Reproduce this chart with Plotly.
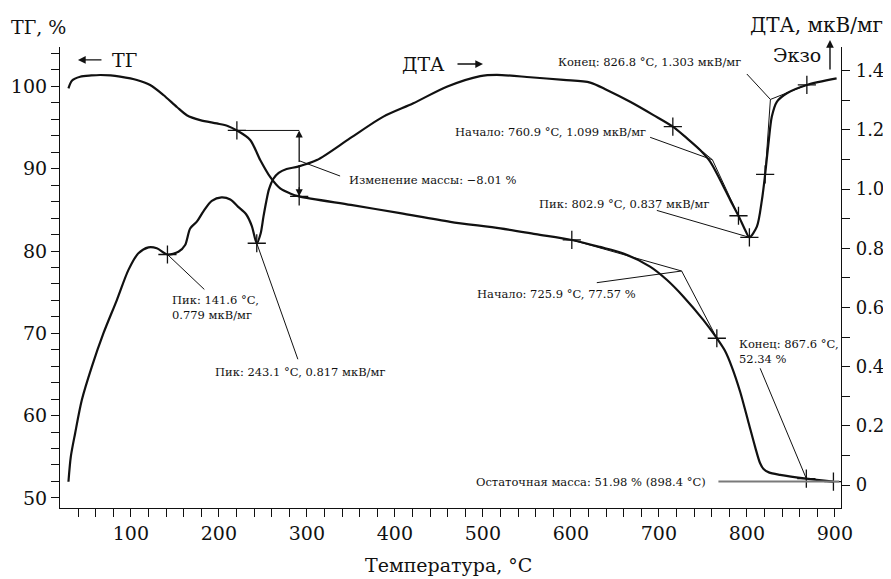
import plotly.graph_objects as go

FONT = "DejaVu Serif, Liberation Serif, serif"
INK = "#111111"

# ---- TG curve (left axis, %) ----
tg_temp = [29.1, 33, 42.4, 55, 65.1, 77, 87.8, 106.8, 121.9, 137, 152.3, 163.6, 178.8, 197.7, 210,
           220.5, 235.6, 247, 258.3, 269.7, 281, 291.3, 350, 406, 463, 520, 560, 601.1, 633, 659.8,
           690, 709, 728, 750.7, 765.9, 775, 783, 792.4, 801.8, 809.4, 815.1, 819, 825, 837.8, 867.6, 898.4]
tg_val = [99.77, 100.7, 101.18, 101.33, 101.39, 101.33, 101.18, 100.78, 100.17, 98.96, 97.5, 96.5, 95.9, 95.5, 95.2,
          94.65, 93.5, 91.06, 89.0, 87.6, 87.0, 86.64, 85.6, 84.6, 83.55, 82.75, 82.05, 81.34, 80.5, 79.7,
          78.1, 76.5, 74.45, 71.6, 69.4, 67.9, 65.9, 62.9, 59.2, 56.2, 54.2, 53.5, 53.1, 52.8, 52.34, 51.98]

# ---- DTA curve (right axis, мкВ/мг) ----
dta_temp = [29.1, 31.8, 36.7, 44.3, 55.7, 68.9, 84.1, 97.3, 108.6, 120, 129.5, 141.6, 154.1, 161.7, 167.4,
            175, 182.5, 192, 203, 213, 222, 231, 237.5, 243.1, 247.5, 250.7, 254, 257, 262, 268, 277, 290,
            311.4, 349.2, 387, 421, 459, 497, 515.9, 553.8, 591.6, 622, 640.9, 667.4, 693.9, 715.9, 731.8,
            746.9, 758.3, 769.7, 781.1, 790.5, 798.1, 802.9, 811.4, 817.1, 820.8, 824.6, 828.4, 834.1, 845.5,
            868.2, 902]
dta_val = [0.011, 0.096, 0.175, 0.287, 0.40, 0.513, 0.625, 0.727, 0.783, 0.803, 0.80, 0.779, 0.788, 0.811, 0.867,
           0.89, 0.925, 0.96, 0.972, 0.965, 0.94, 0.915, 0.875, 0.817, 0.85, 0.907, 0.96, 1.0, 1.035, 1.055, 1.068, 1.076,
           1.098, 1.172, 1.245, 1.29, 1.346, 1.382, 1.386, 1.378, 1.369, 1.36, 1.335, 1.295, 1.25, 1.211, 1.172,
           1.132, 1.093, 1.031, 0.963, 0.91, 0.862, 0.837, 0.873, 0.963, 1.05, 1.155, 1.245, 1.295, 1.324,
           1.352, 1.374]

# ---- analysis markers ----
tg_mark_t = [220.5, 291.3, 601.1, 765.9, 867.6, 898.4]
tg_mark_v = [94.65, 86.64, 81.34, 69.4, 52.34, 51.98]
dta_mark_t = [141.6, 243.1, 715.9, 790.5, 802.9, 820.8, 868.2]
dta_mark_v = [0.779, 0.817, 1.211, 0.91, 0.837, 1.05, 1.352]

# ---- construction / leader lines: (x0, y0, x1, y1) ----
tg_lines = [(220.5, 94.65, 291.3, 94.65), (291.3, 90.97, 337.8, 89.11),
            (601.1, 81.34, 725.9, 77.57), (725.9, 77.57, 765.9, 69.4), (725.9, 77.57, 629.5, 76.15),
            (867.6, 52.34, 815.1, 65.75)]
residual_line = (767.7, 51.98, 904.9, 51.98)
dta_lines = [(141.6, 0.779, 183.5, 0.661), (243.1, 0.817, 289.8, 0.425),
             (715.9, 1.211, 760.9, 1.099), (760.9, 1.099, 790.5, 0.91), (760.9, 1.099, 690.1, 1.175),
             (802.9, 0.837, 697.7, 0.928),
             (826.8, 1.303, 868.2, 1.352), (826.8, 1.303, 820.8, 1.05), (826.8, 1.303, 800.0, 1.389)]

# ---- labels: (text, x, y, axis, xanchor) ----
labels = [
    ("Изменение массы: −8.01 %", 345.8, 88.63, "y", "left"),
    ("Начало: 725.9 °C, 77.57 %", 491.3, 74.78, "y", "left"),
    ("Конец: 867.6 °C,<br>52.34 %", 789.3, 67.81, "y", "left"),
    ("Остаточная масса: 51.98 % (898.4 °C)", 756.0, 51.98, "y", "right"),
    ("Пик: 141.6 °C,<br>0.779 мкВ/мг", 144.7, 0.601, "y2", "left"),
    ("Пик: 243.1 °C, 0.817 мкВ/мг", 193.5, 0.383, "y2", "left"),
    ("Начало: 760.9 °C, 1.099 мкВ/мг", 688.2, 1.194, "y2", "right"),
    ("Пик: 802.9 °C, 0.837 мкВ/мг", 561.4, 0.95, "y2", "left"),
    ("Конец: 826.8 °C, 1.303 мкВ/мг", 796.1, 1.431, "y2", "right"),
]

x_ticks = list(range(40, 901, 20))
x_text = [str(v) if v % 100 == 0 else "" for v in x_ticks]
y_ticks = list(range(50, 105, 2))
y_text = [str(v) if v % 10 == 0 else "" for v in y_ticks]
y2_ticks = [round(i * 0.1, 1) for i in range(0, 15)]
y2_text = [("0" if v == 0 else f"{v:.1f}") if round(v * 10) % 2 == 0 else "" for v in y2_ticks]

fig = go.Figure()
fig.add_trace(go.Scatter(x=tg_temp, y=tg_val, mode="lines", line=dict(color=INK, width=2.2, shape="spline", smoothing=0.8),
                         yaxis="y", showlegend=False, hoverinfo="skip"))
fig.add_trace(go.Scatter(x=dta_temp, y=dta_val, mode="lines", line=dict(color=INK, width=2.2, shape="spline", smoothing=0.8),
                         yaxis="y2", showlegend=False, hoverinfo="skip"))

shapes = []
for x0, y0, x1, y1 in tg_lines:
    shapes.append(dict(type="line", xref="x", yref="y", x0=x0, y0=y0, x1=x1, y1=y1, line=dict(color=INK, width=1)))
for x0, y0, x1, y1 in dta_lines:
    shapes.append(dict(type="line", xref="x", yref="y2", x0=x0, y0=y0, x1=x1, y1=y1, line=dict(color=INK, width=1)))
x0, y0, x1, y1 = residual_line
shapes.append(dict(type="line", xref="x", yref="y", x0=x0, y0=y0, x1=x1, y1=y1, line=dict(color="#7a7a7a", width=2)))

fig.add_trace(go.Scatter(x=tg_mark_t, y=tg_mark_v, mode="markers", yaxis="y",
                         marker=dict(symbol="cross-thin", size=13, line=dict(color=INK, width=1.3)),
                         showlegend=False, hoverinfo="skip"))
fig.add_trace(go.Scatter(x=dta_mark_t, y=dta_mark_v, mode="markers", yaxis="y2",
                         marker=dict(symbol="cross-thin", size=13, line=dict(color=INK, width=1.3)),
                         showlegend=False, hoverinfo="skip"))

annotations = []
for text, x, y, yr, xa in labels:
    annotations.append(dict(text=text, x=x, y=y, xref="x", yref=yr, xanchor=xa, yanchor="middle",
                            align="left", showarrow=False, font=dict(family=FONT, size=11.5, color=INK)))

# mass-change double arrow
mid = (tg_mark_v[0] + tg_mark_v[1]) / 2
for head in (tg_mark_v[0], tg_mark_v[1]):
    annotations.append(dict(text="", x=tg_mark_t[1], y=head, ax=tg_mark_t[1], ay=mid, xref="x", yref="y",
                            axref="x", ayref="y", showarrow=True, arrowhead=2, arrowsize=1.1, arrowwidth=1.3,
                            arrowcolor=INK))

big = dict(family=FONT, size=19, color=INK)
annotations += [
    dict(text="ТГ, %", x=-0.065, y=1.044, xref="paper", yref="paper", xanchor="left", yanchor="middle",
         showarrow=False, font=big),
    dict(text="ДТА, мкВ/мг", x=1.0564, y=1.048, xref="paper", yref="paper", xanchor="right", yanchor="middle",
         showarrow=False, font=dict(family=FONT, size=20, color=INK)),
    dict(text="ТГ", x=0.064, y=0.972, xref="paper", yref="paper", xanchor="left", yanchor="middle",
         showarrow=False, font=big),
    dict(text="", x=0.023, y=0.972, xref="paper", yref="paper", ax=25, ay=0, showarrow=True,
         arrowhead=2, arrowsize=1.1, arrowwidth=1.4, arrowcolor=INK),
    dict(text="ДТА", x=0.4353, y=0.963, xref="paper", yref="paper", xanchor="left", yanchor="middle",
         showarrow=False, font=big),
    dict(text="", x=0.5416, y=0.963, xref="paper", yref="paper", ax=-27, ay=0, showarrow=True,
         arrowhead=2, arrowsize=1.1, arrowwidth=1.4, arrowcolor=INK),
    dict(text="Экзо", x=0.9773, y=0.9826, xref="paper", yref="paper", xanchor="right", yanchor="middle",
         showarrow=False, font=big),
    dict(text="", x=0.9859, y=1.0152, xref="paper", yref="paper", ax=0, ay=31, showarrow=True,
         arrowhead=2, arrowsize=1.1, arrowwidth=1.4, arrowcolor=INK),
    dict(text="Температура, °C", x=0.497, y=-0.1236, xref="paper", yref="paper", xanchor="center",
         yanchor="middle", showarrow=False, font=big),
]

axis_common = dict(showgrid=False, zeroline=False, showline=True, linecolor=INK, linewidth=1.2,
                   ticks="outside", ticklen=8, tickwidth=1.1, tickcolor=INK, automargin=False)

# page body adds an 8px margin: plot area lands at x 60..841, y 47..508 in the window
fig.update_layout(
    width=883, height=571,
    margin=dict(l=52, r=50, t=39, b=71),
    paper_bgcolor="white", plot_bgcolor="white",
    font=dict(family=FONT, color=INK),
    xaxis=dict(range=[19.5, 907], tickmode="array", tickvals=x_ticks, ticktext=x_text,
               tickfont=dict(family=FONT, size=19, color=INK), **axis_common),
    yaxis=dict(range=[48.77, 104.79], tickmode="array", tickvals=y_ticks, ticktext=y_text,
               tickfont=dict(family=FONT, size=19, color=INK), **axis_common),
    yaxis2=dict(range=[-0.0777, 1.4802], tickmode="array", tickvals=y2_ticks, ticktext=y2_text,
                overlaying="y", side="right", ticklabelstandoff=2,
                tickfont=dict(family=FONT, size=18, color=INK), **axis_common),
    shapes=shapes, annotations=annotations, showlegend=False,
)

fig.write_html("out.html")
